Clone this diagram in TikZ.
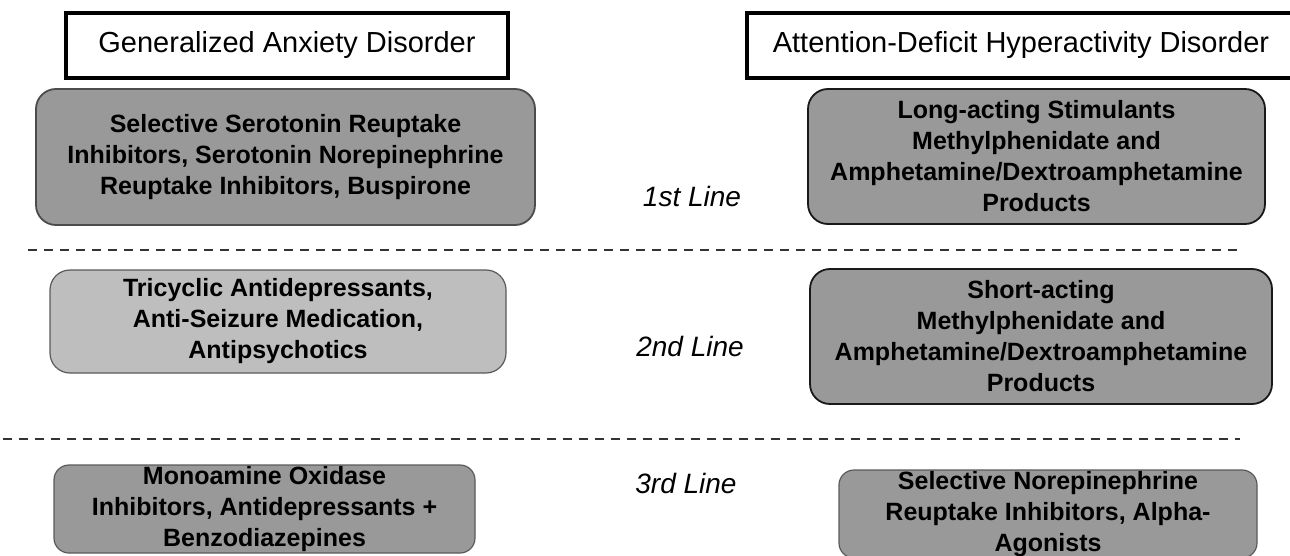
\documentclass[tikz,border=0pt]{standalone}
\usepackage{fontspec}
\setmainfont{Liberation Sans}
\usepackage{xcolor}
\usepackage{tikz}
\usetikzlibrary{positioning}
\definecolor{drugdark}{HTML}{999999}
\definecolor{druglight}{HTML}{BEBEBE}
\definecolor{edgegray}{HTML}{5A5A5A}
\tikzset{
	disorder/.style = {
			draw, line width=3.5pt, rectangle, inner sep=0pt,
			font=\fontsize{29}{35}\selectfont,
		},
	drug/.style = {
			draw=black!90, line width=1.8pt, rectangle, rounded corners=20pt,
			fill=drugdark, inner sep=0pt, align=center,
			font=\fontsize{25}{31}\selectfont\bfseries,
		},
	druglite/.style = {drug, draw=edgegray, line width=1.2pt},
	linelabel/.style = {font=\fontsize{28}{34}\selectfont\itshape},
	separator/.style = {draw=black!80, line width=2pt, dash pattern=on 9pt off 7pt},
}
\begin{document}
\begin{tikzpicture}[x=1pt, y=-1pt]
	\useasboundingbox (0,0) rectangle (1290,556);
	\clip (0,0) rectangle (1290,556);

	\node[disorder, minimum width=442pt, minimum height=65pt] at (287,45.5) (gadtitle) {Generalized Anxiety Disorder};
	\node[disorder, minimum width=548pt, minimum height=65pt] at (1021,45.5) (adhdtitle) {Attention-Deficit Hyperactivity Disorder};

	\node[drug, draw=black!70, minimum width=499pt, minimum height=136pt] at (285.5,157) (gadfirst) {Selective Serotonin Reuptake\\Inhibitors, Serotonin Norepinephrine\\Reuptake Inhibitors, Buspirone};
	\node[drug, minimum width=457pt, minimum height=135pt] at (1036.5,156.5) (adhdfirst) {Long-acting Stimulants\\Methylphenidate and\\Amphetamine/Dextroamphetamine\\Products};
	\node[linelabel] at (692,196) (firstline) {1st Line};

	\draw[separator] (28,250) -- (1243,250);

	\node[druglite, fill=druglight, minimum width=456pt, minimum height=103pt] at (278,321.5) (gadsecond) {Tricyclic Antidepressants,\\Anti-Seizure Medication,\\Antipsychotics};
	\node[drug, minimum width=462pt, minimum height=135pt] at (1041,336.5) (adhdsecond) {Short-acting\\Methylphenidate and\\Amphetamine/Dextroamphetamine\\Products};
	\node[linelabel] at (690,346) (secondline) {2nd Line};

	\draw[separator] (3,439) -- (1240,439);

	\node[druglite, rounded corners=15pt, minimum width=421pt, minimum height=88pt] at (264.5,509) (gadthird) {Monoamine Oxidase\\Inhibitors, Antidepressants +\\Benzodiazepines};
	\node[druglite, rounded corners=15pt, minimum width=418pt, minimum height=88pt] at (1048,514) (adhdthird) {Selective Norepinephrine\\Reuptake Inhibitors, Alpha-\\Agonists};
	\node[linelabel] at (686,483) (thirdline) {3rd Line};
\end{tikzpicture}
\end{document}
